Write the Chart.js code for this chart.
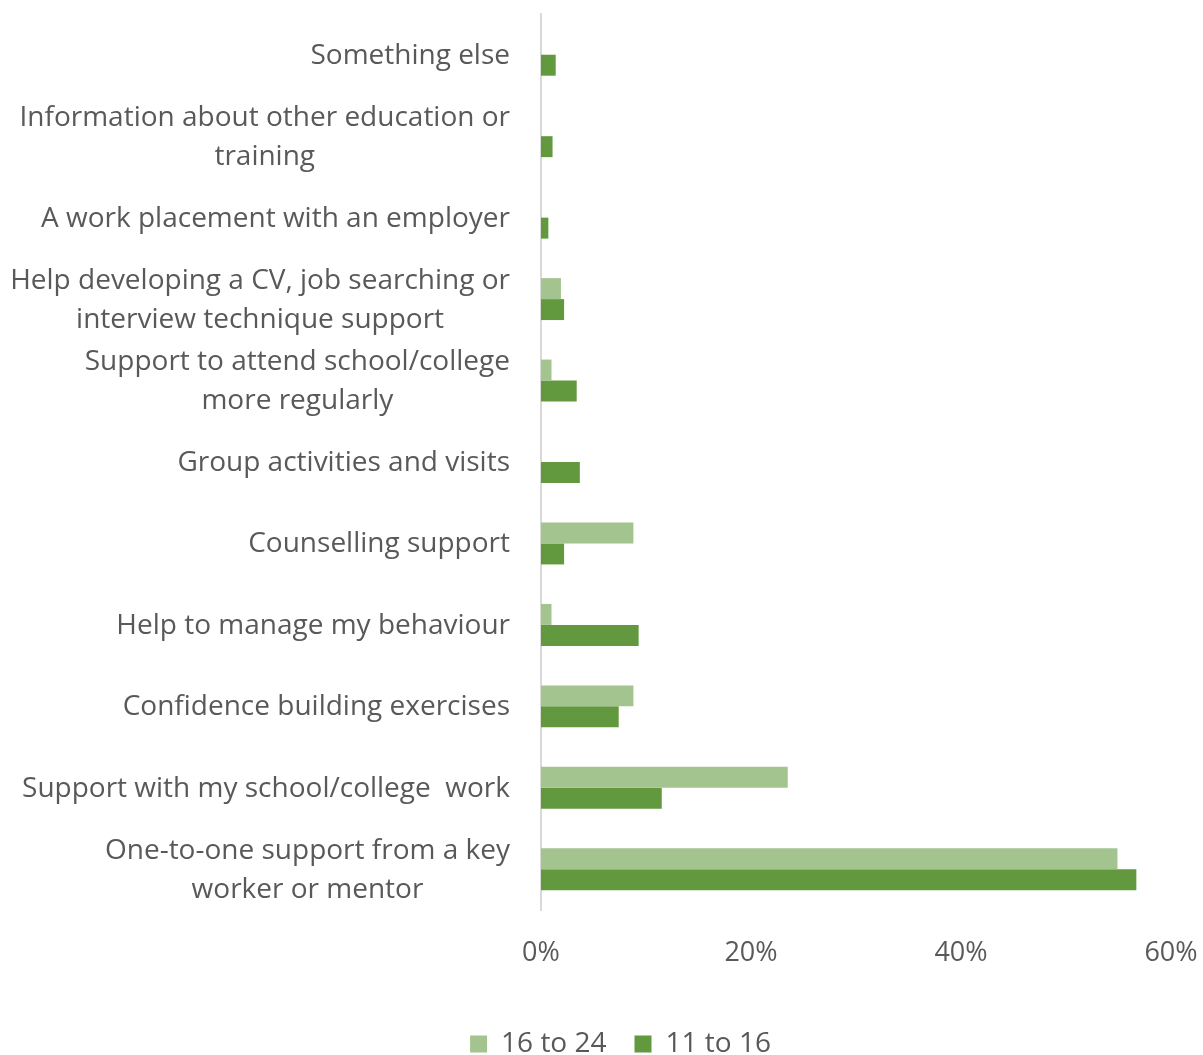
<!DOCTYPE html>
<html>
<head>
<meta charset="utf-8">
<script src="https://cdn.jsdelivr.net/npm/chart.js@4/dist/chart.umd.min.js"></script>
<style>
  html, body { margin: 0; padding: 0; background: #fff; }
  #wrap { width: 1203px; height: 1055px; }
</style>
</head>
<body>
<div id="wrap"><canvas id="c" width="1203" height="1055"></canvas></div>
<script>
// Support types (top to bottom), each split into its display lines
const categories = [
  ["Something else"],
  ["Information about other education or", "training"],
  ["A work placement with an employer"],
  ["Help developing a CV, job searching or", "interview technique support"],
  ["Support to attend school/college", "more regularly"],
  ["Group activities and visits"],
  ["Counselling support"],
  ["Help to manage my behaviour"],
  ["Confidence building exercises"],
  ["Support with my school/college  work"],
  ["One-to-one support from a key", "worker or mentor"]
];
// Share of respondents (%) by age group
const age16to24 = [0, 0, 0, 1.9, 1.0, 0, 8.8, 1.0, 8.8, 23.5, 54.9];
const age11to16 = [1.4, 1.1, 0.7, 2.2, 3.4, 3.7, 2.2, 9.3, 7.4, 11.5, 56.7];
const xTicks = [0, 20, 40, 60];

const FONT = '"Open Sans", "Noto Sans", sans-serif';
const TEXT = '#595959';

// Category labels: block right-aligned against the axis, lines centred within the block
const categoryLabels = {
  id: 'categoryLabels',
  afterDraw(chart) {
    const { ctx, scales: { y }, chartArea } = chart;
    const right = chartArea.left - 31;
    const lineH = 39;
    ctx.save();
    ctx.font = '28px ' + FONT;
    ctx.fillStyle = TEXT;
    ctx.textAlign = 'center';
    ctx.textBaseline = 'middle';
    chart.data.labels.forEach((lines, i) => {
      const cy = y.getPixelForTick(i) + 1;
      const w = Math.max(...lines.map(l => ctx.measureText(l).width));
      const cx = right - w / 2;
      lines.forEach((l, j) => {
        ctx.fillText(l, cx, cy + (j - (lines.length - 1) / 2) * lineH);
      });
    });
    ctx.restore();
  }
};

function draw() {
  new Chart(document.getElementById('c'), {
    type: 'bar',
    data: {
      labels: categories,
      datasets: [
        { label: '16 to 24', data: age16to24, backgroundColor: '#A3C48F' },
        { label: '11 to 16', data: age11to16, backgroundColor: '#62993E' }
      ]
    },
    options: {
      indexAxis: 'y',
      responsive: false,
      animation: false,
      layout: { padding: { left: 70, right: 32, top: 14, bottom: -13 } },
      datasets: { bar: { categoryPercentage: 0.515, barPercentage: 1 } },
      scales: {
        x: {
          min: 0, max: 60,
          afterBuildTicks: s => { s.ticks = xTicks.map(v => ({ value: v })); },
          afterFit: s => { s.height = 92; s.paddingLeft = 0; s.paddingRight = 0; },
          grid: { display: false },
          border: { display: false },
          ticks: {
            color: TEXT,
            font: { family: FONT, size: 27 },
            padding: 19,
            maxRotation: 0,
            callback: v => v + '%'
          }
        },
        y: {
          afterFit: s => { s.width = 471; },
          grid: { display: false },
          border: { color: '#D9D9D9', width: 2 },
          ticks: { display: false }
        }
      },
      plugins: {
        legend: {
          position: 'bottom',
          labels: {
            color: TEXT,
            font: { family: FONT, size: 28 },
            boxWidth: 17,
            boxHeight: 17,
            padding: 28
          }
        },
        tooltip: { enabled: false }
      }
    },
    plugins: [categoryLabels]
  });
}

document.fonts.load('28px "Open Sans"').then(draw, draw);
</script>
</body>
</html>
